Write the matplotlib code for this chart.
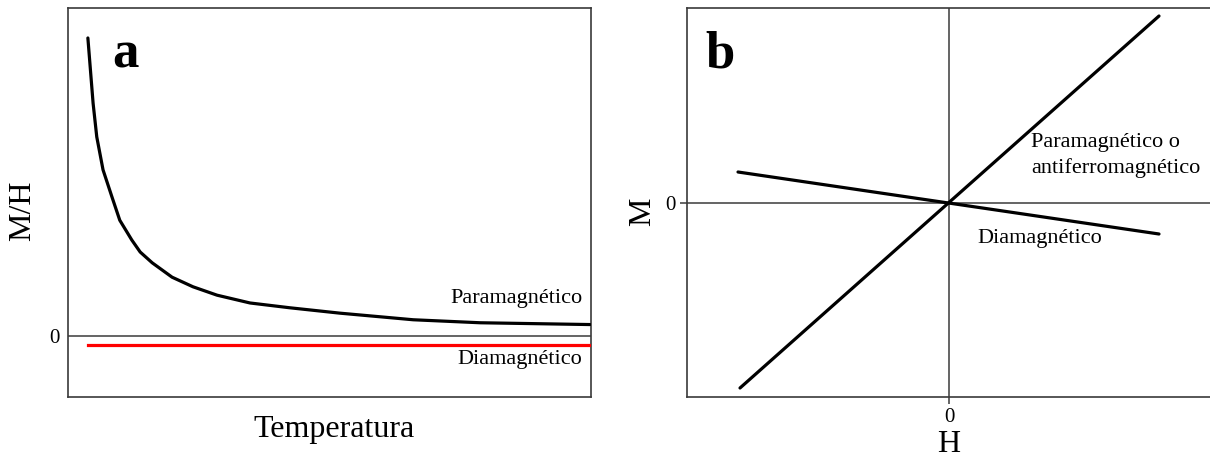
import matplotlib
matplotlib.use("Agg")
import matplotlib.pyplot as plt

plt.rcParams['font.family'] = ['Liberation Serif', 'DejaVu Serif']

# Panel a: susceptibility (M/H) versus temperature
temp_para = [0.38, 0.48, 0.55, 0.67, 0.84, 0.99, 1.22, 1.38, 1.61, 1.99,
             2.39, 2.85, 3.48, 4.24, 5.20, 6.60, 7.88, 9.98]
chi_para = [4.97, 3.88, 3.32, 2.77, 2.32, 1.93, 1.60, 1.40, 1.22, 0.98,
            0.82, 0.68, 0.55, 0.47, 0.38, 0.27, 0.22, 0.19]
temp_dia = [0.38, 10.0]
chi_dia = [-0.15, -0.15]

# Panel b: magnetisation versus applied field
field_para = [-2.09, 2.10]
mag_para = [-1.85, 1.87]
field_dia = [-2.11, 2.10]
mag_dia = [0.31, -0.31]

W, H = 1210, 459
fig = plt.figure(figsize=(W / 100, H / 100), dpi=100)

spine_c = '#3a3a3a'


def px_axes(x0, y0, x1, y1):
    return fig.add_axes([x0 / W, 1 - y1 / H, (x1 - x0) / W, (y1 - y0) / H])


# ---- panel a ----
ax = px_axes(68, 8, 591, 396.5)
ax.set_xlim(0, 10)
ax.set_ylim(-1.01, 5.47)
ax.axhline(0, color=spine_c, lw=1.1, zorder=1)
ax.plot(temp_para, chi_para, color='black', lw=2.3, solid_joinstyle='round',
        solid_capstyle='round', zorder=3)
ax.plot(temp_dia, chi_dia, color='#ff0000', lw=2.3, zorder=3)
ax.set_xticks([])
ax.set_yticks([0])
ax.set_yticklabels(['0'])
ax.tick_params(axis='y', length=0, pad=6, labelsize=15)
for s in ax.spines.values():
    s.set_color(spine_c)
    s.set_linewidth(1.2)
ax.text(9.83, 0.63, 'Paramagnético', ha='right', va='center', fontsize=16)
ax.text(9.83, -0.40, 'Diamagnético', ha='right', va='center', fontsize=16)
ax.text(0.085, 1 - (68 - 8) / 388.5, 'a', transform=ax.transAxes,
        fontsize=38, fontweight='bold', ha='left', va='baseline')
fig.text(334 / W, 1 - 430 / H, 'Temperatura', ha='center', va='center',
         fontsize=23)
fig.text(23 / W, 1 - 211 / H, 'M/H', ha='center', va='center',
         rotation=90, fontsize=23)

# ---- panel b ----
bx = px_axes(687, 8, 1216, 396.5)
bx.set_xlim(-2.62, 2.67)
bx.set_ylim(-1.935, 1.95)
bx.axhline(0, color=spine_c, lw=1.1, zorder=1)
bx.axvline(0, color=spine_c, lw=1.1, zorder=1)
bx.plot(field_para, mag_para, color='black', lw=2.3, solid_capstyle='round',
        zorder=3)
bx.plot(field_dia, mag_dia, color='black', lw=2.3, solid_capstyle='round',
        zorder=3)
bx.set_xticks([0])
bx.set_xticklabels(['0'])
bx.set_yticks([0])
bx.set_yticklabels(['0'])
bx.tick_params(length=5, width=1.1, color=spine_c, pad=3, labelsize=15)
for s in bx.spines.values():
    s.set_color(spine_c)
    s.set_linewidth(1.2)
bx.spines['right'].set_visible(False)
bx.text(0.82, 0.475, 'Paramagnético o\nantiferromagnético', ha='left',
        va='center', fontsize=16, linespacing=1.4)
bx.text(0.28, -0.35, 'Diamagnético', ha='left', va='center', fontsize=16)
bx.text((705 - 687) / 529, 1 - (68 - 8) / 388.5, 'b', transform=bx.transAxes,
        fontsize=38, fontweight='bold', ha='left', va='baseline')
fig.text(949 / W, 1 - 445 / H, 'H', ha='center', va='center', fontsize=23)
fig.text(643 / W, 1 - 212 / H, 'M', ha='center', va='center',
         rotation=90, fontsize=23)

fig.savefig('out.png', dpi=100)
